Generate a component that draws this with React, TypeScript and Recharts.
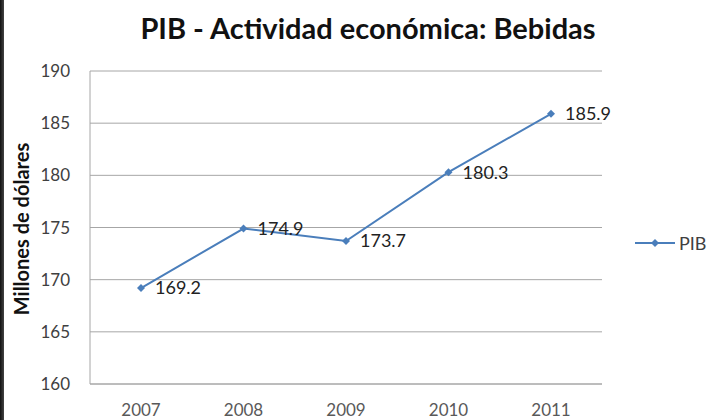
import React from 'react';
import { LineChart, Line, XAxis, YAxis, CartesianGrid, LabelList, Legend } from 'recharts';

// values
const years = ['2007', '2008', '2009', '2010', '2011'];
const pib = [169.2, 174.9, 173.7, 180.3, 185.9];
const yTicks = [160, 165, 170, 175, 180, 185, 190];

const data = years.map((year, i) => ({ year, PIB: pib[i] }));

const FONT = 'Lato, "Open Sans", sans-serif';
const LINE_COLOR = '#4a7ebb';

const Diamond = (props: any) => {
  const { cx, cy } = props;
  if (cx == null || cy == null) return null;
  const r = 4;
  return (
    <path
      d={`M${cx},${cy - r} L${cx + r},${cy} L${cx},${cy + r} L${cx - r},${cy} Z`}
      fill={LINE_COLOR}
    />
  );
};

const LegendContent = () => (
  <div style={{ display: 'flex', alignItems: 'center', fontFamily: FONT, fontSize: 18, color: '#404040', lineHeight: '20px' }}>
    <svg width={40} height={12}>
      <line x1={0} y1={6} x2={40} y2={6} stroke={LINE_COLOR} strokeWidth={2} />
      <path d="M20,2 L24,6 L20,10 L16,6 Z" fill={LINE_COLOR} />
    </svg>
    <span style={{ marginLeft: 4 }}>PIB</span>
  </div>
);

const App: React.FC = () => {
  return (
    <div
      style={{
        position: 'absolute',
        left: 0,
        top: 0,
        width: 707,
        height: 420,
        background: '#fff',
        overflow: 'hidden',
      }}
    >
      <div
        style={{
          position: 'absolute',
          left: 0,
          top: 0,
          width: 4,
          height: 420,
          background: 'linear-gradient(to right, #111, #444)',
        }}
      />
      <div
        style={{
          position: 'absolute',
          left: 68,
          width: 600,
          top: 10,
          textAlign: 'center',
          fontFamily: FONT,
          fontWeight: 'bold',
          fontSize: 29,
          color: '#111',
        }}
      >
        PIB - Actividad económica: Bebidas
      </div>
      <div
        style={{
          position: 'absolute',
          left: 21,
          top: 229,
          transform: 'translate(-50%, -50%) rotate(-90deg)',
          whiteSpace: 'nowrap',
          fontFamily: FONT,
          fontWeight: 'bold',
          fontSize: 20,
          color: '#111',
        }}
      >
        Millones de dólares
      </div>
      <LineChart
        width={707}
        height={420}
        data={data}
        margin={{ top: 71, right: 105, bottom: 6, left: 0 }}
        style={{ fontFamily: FONT }}
      >
        <CartesianGrid vertical={false} stroke="#a6a6a6" strokeWidth={1} />
        <XAxis
          dataKey="year"
          height={30}
          padding={{ left: 51, right: 51 }}
          tickLine={false}
          tickMargin={14}
          stroke="#a6a6a6"
          tick={{ fill: '#595959', fontSize: 17 }}
        />
        <YAxis
          width={90}
          domain={[160, 190]}
          ticks={yTicks}
          tickLine={false}
          tickMargin={14}
          stroke="#a6a6a6"
          tick={{ fill: '#404040', fontSize: 17 }}
        />
        <Legend
          layout="horizontal"
          align="center"
          verticalAlign="middle"
          content={<LegendContent />}
          wrapperStyle={{ position: 'absolute', left: 635, top: 233, width: 'auto' }}
        />
        <Line
          type="linear"
          dataKey="PIB"
          stroke={LINE_COLOR}
          strokeWidth={2}
          dot={<Diamond />}
          activeDot={false}
          isAnimationActive={false}
        >
          <LabelList dataKey="PIB" position="right" offset={14} fill="#222" fontSize={18} />
        </Line>
      </LineChart>
    </div>
  );
};

export default App;
